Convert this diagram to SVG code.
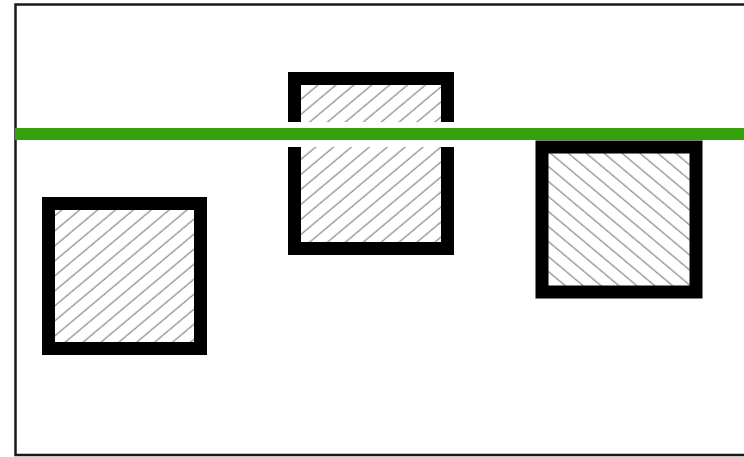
<svg xmlns="http://www.w3.org/2000/svg" width="744" height="457" viewBox="0 0 744 457">
  <defs>
    <pattern id="hatchR" patternUnits="userSpaceOnUse" width="20" height="11.5" patternTransform="rotate(-40)">
      <line x1="0" y1="5" x2="20" y2="5" stroke="#6e6e6e" stroke-width="1"/>
    </pattern>
    <pattern id="hatchL" patternUnits="userSpaceOnUse" width="20" height="11.5" patternTransform="rotate(40)">
      <line x1="0" y1="5" x2="20" y2="5" stroke="#6e6e6e" stroke-width="1"/>
    </pattern>
  </defs>
  <style>
    .frame { fill: none; stroke: #1a1a1a; stroke-width: 2.5; }
    .box { stroke: #000; stroke-width: 13; }
    .green { fill: #36a00a; }
  </style>
  <rect width="744" height="457" fill="#ffffff"/>
  <g id="frame">
    <polyline class="frame" points="746,4.5 15.5,4.5 15.5,455 746,455"/>
  </g>
  <g id="box-left">
    <rect class="box" x="48.5" y="203.5" width="152" height="145" fill="url(#hatchR)"/>
  </g>
  <g id="box-middle">
    <rect class="box" x="294.5" y="78.5" width="153" height="170" fill="url(#hatchR)"/>
  </g>
  <g id="box-right">
    <rect class="box" x="542" y="147" width="154" height="145" fill="url(#hatchL)" stroke-width="14"/>
  </g>
  <g id="green-line">
    <rect x="286" y="122" width="171" height="25" fill="#ffffff"/>
    <rect class="green" x="15" y="128" width="729" height="12"/>
  </g>
</svg>
